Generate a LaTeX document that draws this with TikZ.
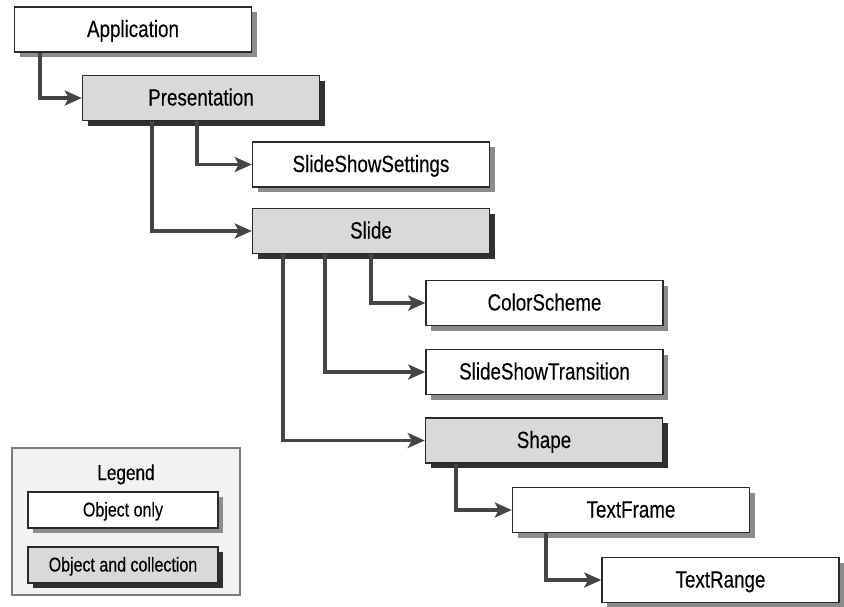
\documentclass[tikz,border=0pt]{standalone}
\usepackage{fontspec}
\setmainfont[FakeStretch=0.8, FakeBold=0.2]{Liberation Sans}
\usetikzlibrary{arrows.meta,shadows}
\definecolor{linec}{HTML}{454545}
\definecolor{boxline}{HTML}{2A2A2A}
\definecolor{collfill}{HTML}{D9D9D9}
\definecolor{objshadow}{HTML}{8C8C8C}
\definecolor{collshadow}{HTML}{303030}
\definecolor{legfill}{HTML}{F2F2F2}
\definecolor{legline}{HTML}{7A7A7A}
\tikzset{
  objbox/.style={draw=boxline, line width=1.5pt, fill=white, minimum width=237pt, minimum height=45pt,
    inner sep=0pt, font=\fontsize{23.5}{28}\selectfont, text height=15pt, text depth=0pt,
    drop shadow={shadow xshift=5pt, shadow yshift=-5pt, fill=objshadow, opacity=1}},
  collbox/.style={objbox, fill=collfill,
    drop shadow={shadow xshift=5pt, shadow yshift=-5pt, fill=collshadow, opacity=1}},
  legobj/.style={objbox, minimum width=190pt, minimum height=36pt, font=\fontsize{20}{24}\selectfont, text height=13pt},
  legcoll/.style={collbox, minimum width=190pt, minimum height=36pt, font=\fontsize{20}{24}\selectfont, text height=13pt},
  conn/.style={draw=linec, line width=3.2pt, -{Stealth[length=17pt, width=15pt, inset=4pt]}},
}
\begin{document}
\begin{tikzpicture}[x=1pt, y=-1pt]
\useasboundingbox (0,0) rectangle (844,606);
% legend
\node[draw=legline, line width=1.2pt, fill=legfill, minimum width=228pt, minimum height=147pt, inner sep=0pt] (legend) at (126,521.5) {};
\node[font=\fontsize{21.5}{26}\selectfont, text height=14pt, text depth=0pt, inner sep=0pt] (legtitle) at (126,473) {Legend};
\node[legobj] (lobj) at (123,510) {Object only};
\node[legcoll] (lcoll) at (123,565) {Object and collection};
% main boxes
\node[objbox] (app) at (133,29.5) {Application};
\node[collbox] (pres) at (201,98) {Presentation};
\node[objbox] (sss) at (371,164.5) {SlideShowSettings};
\node[collbox] (slide) at (371,231) {Slide};
\node[objbox] (cs) at (544.5,303) {ColorScheme};
\node[objbox] (sst) at (544.5,372) {SlideShowTransition};
\node[collbox] (shape) at (544,440.5) {Shape};
\node[objbox] (tf) at (631,510) {TextFrame};
\node[objbox] (tr) at (720.5,580) {TextRange};
% connectors
\draw[conn] (app.south -| 40,0) |- (pres.west);
\draw[conn] (pres.south -| 152,0) |- (slide.west);
\draw[conn] (pres.south -| 197,0) |- (sss.west);
\draw[conn] (slide.south -| 283,0) |- (shape.west);
\draw[conn] (slide.south -| 325,0) |- (sst.west);
\draw[conn] (slide.south -| 371,0) |- (cs.west);
\draw[conn] (shape.south -| 456,0) |- (tf.west);
\draw[conn] (tf.south -| 546,0) |- (tr.west);
\end{tikzpicture}
\end{document}
